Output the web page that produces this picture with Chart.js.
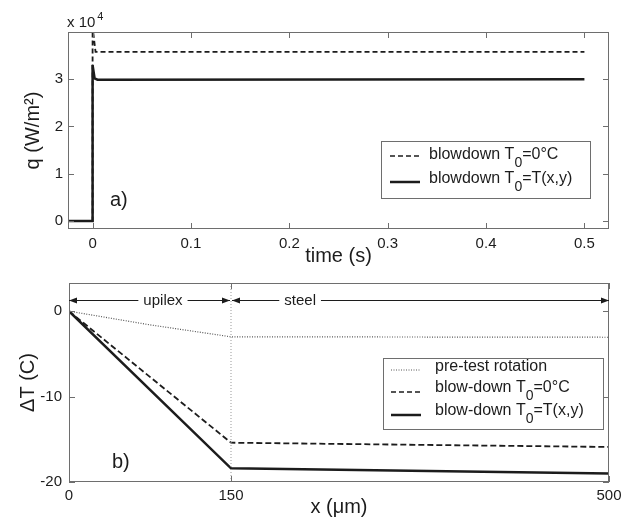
<!DOCTYPE html>
<html>
<head>
<meta charset="utf-8">
<script src="https://cdn.jsdelivr.net/npm/chart.js@4/dist/chart.umd.min.js"></script>
<style>
  body { margin: 0; background: #fff; }
  #wrap { position: relative; width: 630px; height: 522px; }
  canvas { position: absolute; left: 0; }
  #chartA { top: 0; }
  #chartB { top: 260px; }
</style>
</head>
<body>
<div id="wrap">
  <canvas id="chartA" width="630" height="270"></canvas>
  <canvas id="chartB" width="630" height="262"></canvas>
</div>
<script>
const FONT = "'Liberation Sans', Arial, Helvetica, sans-serif";
const INK = '#1c1c1c';
const FRAME = '#6e6e6e';
const DOTS = '#555';

// a) heat flux at the surface after the flow starts
const timeSolid = [-0.025, 0, 0, 0.002, 0.005, 0.5];
const fluxSolid = [0, 0, 33000, 30200, 29900, 30000];
const timeDashed = [-0.025, 0, 0, 0.003, 0.5];
const fluxDashed = [0, 0, 41000, 35800, 35800];
const timeTicks = [0, 0.1, 0.2, 0.3, 0.4, 0.5];
const fluxTicks = [0, 10000, 20000, 30000];
const legendA = ['blowdown T_0=0°C', 'blowdown T_0=T(x,y)'];

// b) temperature change through the upilex film and the steel
const depthPre = [0, 75, 150, 500];
const dtPre = [0, -1.6, -3.0, -3.05];
const depthBlow = [0, 150, 500];
const dtBlowZero = [0, -15.4, -15.9];
const dtBlowField = [0, -18.4, -19.0];
const depthTicks = [0, 150, 500];
const dtTicks = [-20, -10, 0];
const layerBoundary = 150;
const layerSpans = [[0, 150], [150, 500]];
const layerNames = ['upilex', 'steel'];
const layerNameAt = [87, 214];
const layerRowDt = 1.3;
const legendB = ['pre-test rotation', 'blow-down T_0=0°C', 'blow-down T_0=T(x,y)'];

const pts = (xs, ys) => xs.map((x, i) => ({x, y: ys[i]}));

// text where "_c" puts the character c as a subscript
function richText(ctx, str, x, y, size) {
  const parts = str.split(/_(.)/);
  ctx.textBaseline = 'middle';
  ctx.textAlign = 'left';
  parts.forEach((p, i) => {
    if (i % 2) {
      ctx.font = (size - 2) + 'px ' + FONT;
      ctx.fillText(p, x, y + 8);
    } else {
      ctx.font = size + 'px ' + FONT;
      ctx.fillText(p, x, y);
    }
    x += ctx.measureText(p).width;
  });
}

function drawLegend(ctx, box, rows) {
  ctx.save();
  ctx.fillStyle = '#fff';
  ctx.fillRect(box.left, box.top, box.right - box.left, box.bottom - box.top);
  ctx.strokeStyle = FRAME;
  ctx.lineWidth = 1;
  ctx.strokeRect(box.left + 0.5, box.top + 0.5, box.right - box.left, box.bottom - box.top);
  rows.forEach(r => {
    ctx.beginPath();
    ctx.strokeStyle = r.color;
    ctx.lineWidth = r.width;
    ctx.setLineDash(r.dash);
    ctx.moveTo(box.sample[0], r.y + r.dy);
    ctx.lineTo(box.sample[1], r.y + r.dy);
    ctx.stroke();
    ctx.setLineDash([]);
    ctx.fillStyle = INK;
    richText(ctx, r.label, box.text, r.y, 16);
  });
  ctx.restore();
}

// box round the plot with short inward tick marks on all four sides
const frame = {
  id: 'frame',
  afterDraw(chart) {
    const {ctx, chartArea: a, scales: {x, y}} = chart;
    ctx.save();
    ctx.strokeStyle = FRAME;
    ctx.lineWidth = 1;
    ctx.strokeRect(a.left + 0.5, a.top + 0.5, a.right - a.left - 1, a.bottom - a.top - 1);
    ctx.beginPath();
    x.ticks.forEach(t => {
      const px = Math.round(x.getPixelForValue(t.value)) + 0.5;
      ctx.moveTo(px, a.bottom); ctx.lineTo(px, a.bottom - 6);
      ctx.moveTo(px, a.top); ctx.lineTo(px, a.top + 6);
    });
    y.ticks.forEach(t => {
      const py = Math.round(y.getPixelForValue(t.value)) + 0.5;
      ctx.moveTo(a.left, py); ctx.lineTo(a.left + 6, py);
      ctx.moveTo(a.right, py); ctx.lineTo(a.right - 6, py);
    });
    ctx.stroke();
    ctx.restore();
  }
};

const decorA = {
  id: 'decorA',
  afterDraw(chart) {
    const {ctx, chartArea: a} = chart;
    ctx.save();
    ctx.fillStyle = INK;
    ctx.textBaseline = 'middle';
    ctx.font = '15px ' + FONT;
    ctx.fillText('x 10', a.left - 1, a.top - 9);
    const w = ctx.measureText('x 10').width;
    ctx.font = '11px ' + FONT;
    ctx.fillText('4', a.left + w + 1, a.top - 15);
    ctx.font = '20px ' + FONT;
    ctx.fillText('a)', a.left + 42, a.bottom - 29);
    ctx.restore();
    drawLegend(ctx, {left: 381, top: 141, right: 590, bottom: 198, sample: [390, 420], text: 429}, [
      {label: legendA[0], y: 155, dy: 1, color: INK, width: 1.5, dash: [5, 3]},
      {label: legendA[1], y: 179, dy: 3, color: INK, width: 2.5, dash: []}
    ]);
  }
};

const decorB = {
  id: 'decorB',
  afterDraw(chart) {
    const {ctx, chartArea: a, scales: {x, y}} = chart;
    ctx.save();
    ctx.fillStyle = INK;
    ctx.strokeStyle = INK;
    ctx.lineWidth = 1;
    ctx.font = '15px ' + FONT;
    ctx.textBaseline = 'middle';
    ctx.textAlign = 'center';
    const py = Math.round(y.getPixelForValue(layerRowDt)) + 0.5;
    layerSpans.forEach((span, i) => {
      const x0 = x.getPixelForValue(span[0]) + (i ? 1 : 0);
      const x1 = x.getPixelForValue(span[1]) - (i ? 0 : 1);
      const xc = x.getPixelForValue(layerNameAt[i]);
      const half = ctx.measureText(layerNames[i]).width / 2;
      ctx.fillText(layerNames[i], xc, py);
      ctx.beginPath();
      ctx.moveTo(x0, py); ctx.lineTo(xc - half - 5, py);
      ctx.moveTo(xc + half + 5, py); ctx.lineTo(x1, py);
      ctx.stroke();
      ctx.beginPath();
      ctx.moveTo(x0, py); ctx.lineTo(x0 + 8, py - 3); ctx.lineTo(x0 + 8, py + 3); ctx.closePath();
      ctx.moveTo(x1, py); ctx.lineTo(x1 - 8, py - 3); ctx.lineTo(x1 - 8, py + 3); ctx.closePath();
      ctx.fill();
    });
    ctx.textAlign = 'left';
    ctx.font = '20px ' + FONT;
    ctx.fillText('b)', a.left + 43, a.bottom - 20);
    ctx.restore();
    drawLegend(ctx, {left: 383, top: 98, right: 603, bottom: 169, sample: [391, 421], text: 435}, [
      {label: legendB[0], y: 107, dy: 3, color: DOTS, width: 1, dash: [1, 1.5]},
      {label: legendB[1], y: 128, dy: 4, color: INK, width: 1.5, dash: [5, 3]},
      {label: legendB[2], y: 151, dy: 4, color: INK, width: 2.5, dash: []}
    ]);
  }
};

const tickFont = {family: FONT, size: 15};
const titleFont = {family: FONT, size: 20};

function axis(min, max, values, fmt, size, titleText, titlePad, tickPad) {
  return {
    type: 'linear',
    min, max,
    grid: {display: false, drawTicks: false},
    border: {display: false},
    ticks: {font: tickFont, color: INK, padding: tickPad, maxRotation: 0, autoSkip: false, callback: fmt},
    title: {display: true, text: titleText, font: titleFont, color: INK, padding: titlePad},
    afterBuildTicks: s => { s.ticks = values.map(v => ({value: v})); },
    afterFit: s => { if (s.isHorizontal()) s.height = size; else s.width = size; }
  };
}

const base = {
  responsive: false,
  animation: false,
  devicePixelRatio: 1,
  plugins: {legend: {display: false}, tooltip: {enabled: false}},
  elements: {point: {radius: 0}, line: {tension: 0}}
};

new Chart(document.getElementById('chartA'), {
  type: 'scatter',
  data: {
    datasets: [
      {data: pts(timeDashed, fluxDashed), showLine: true, borderColor: INK, borderWidth: 1.8, borderDash: [5, 3]},
      {data: pts(timeSolid, fluxSolid), showLine: true, borderColor: INK, borderWidth: 2.5}
    ]
  },
  options: {
    ...base,
    layout: {padding: {top: 32, right: 21, left: 0, bottom: 0}},
    scales: {
      x: axis(-0.025, 0.525, timeTicks, v => String(v), 41, 'time (s)', {bottom: 2}, 6),
      y: axis(-1700, 40000, fluxTicks, v => String(v / 10000), 68, 'q (W/m²)', {top: 21}, 5)
    }
  },
  plugins: [frame, decorA]
});

new Chart(document.getElementById('chartB'), {
  type: 'scatter',
  data: {
    datasets: [
      {data: [{x: layerBoundary, y: 3.3}, {x: layerBoundary, y: -20}], showLine: true, borderColor: '#999', borderWidth: 1, borderDash: [1, 2]},
      {data: pts(depthPre, dtPre), showLine: true, borderColor: DOTS, borderWidth: 1.2, borderDash: [1, 1.5]},
      {data: pts(depthBlow, dtBlowZero), showLine: true, borderColor: INK, borderWidth: 1.8, borderDash: [6, 3]},
      {data: pts(depthBlow, dtBlowField), showLine: true, borderColor: INK, borderWidth: 2.5}
    ]
  },
  options: {
    ...base,
    layout: {padding: {top: 23, right: 21, left: 0, bottom: 0}},
    scales: {
      x: axis(0, 500, depthTicks, v => String(v), 40, 'x (μm)', {bottom: 3}, 5),
      y: axis(-20, 3.3, dtTicks, v => String(v), 69, 'ΔT (C)', {top: 16}, 7)
    }
  },
  plugins: [frame, decorB]
});
</script>
</body>
</html>
